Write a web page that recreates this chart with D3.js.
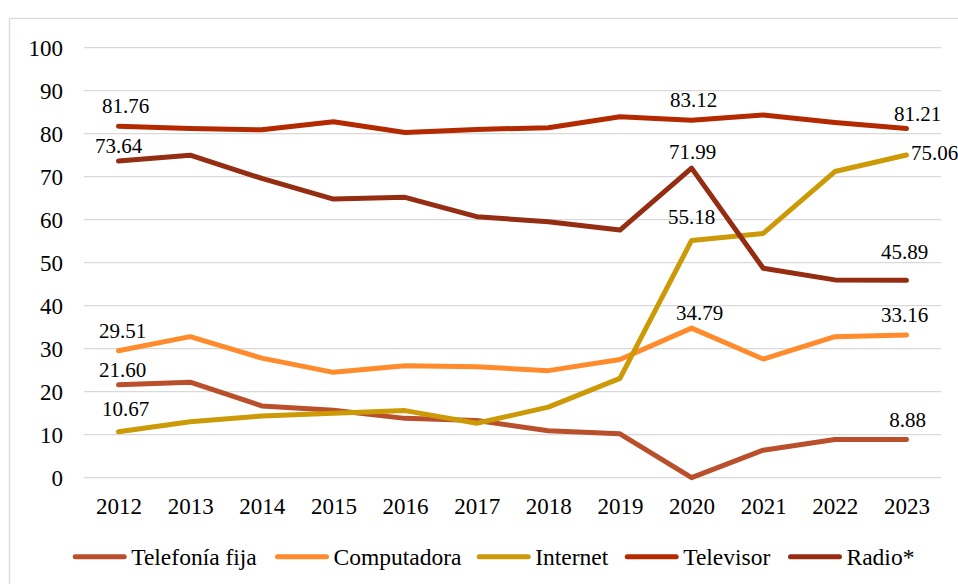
<!DOCTYPE html>
<html>
<head>
<meta charset="utf-8">
<script src="https://cdn.jsdelivr.net/npm/d3@7"></script>
</head>
<body style="margin:0">
<div class="chart"></div>
<script>
// data
const years = [2012, 2013, 2014, 2015, 2016, 2017, 2018, 2019, 2020, 2021, 2022, 2023];
const telefoniaFija = [21.60, 22.2, 16.7, 15.7, 13.8, 13.3, 10.9, 10.2, 0.0, 6.4, 8.9, 8.88];
const computadora = [29.51, 32.8, 27.8, 24.5, 26.05, 25.8, 24.9, 27.5, 34.79, 27.6, 32.8, 33.16];
const internet = [10.67, 13.0, 14.35, 15.0, 15.6, 12.65, 16.4, 23.1, 55.18, 56.8, 71.2, 75.06];
const televisor = [81.76, 81.2, 80.9, 82.8, 80.3, 81.0, 81.4, 83.95, 83.12, 84.35, 82.6, 81.21];
const radio = [73.64, 75.0, 69.6, 64.8, 65.2, 60.7, 59.5, 57.6, 71.99, 48.7, 46.0, 45.89];
const yTicks = [0, 10, 20, 30, 40, 50, 60, 70, 80, 90, 100];

const series = [
  {name: "Telefonía fija", values: telefoniaFija, color: "#B9502B"},
  {name: "Computadora", values: computadora, color: "#FF8B2D"},
  {name: "Internet", values: internet, color: "#CC9A06"},
  {name: "Televisor", values: televisor, color: "#B32A00"},
  {name: "Radio*", values: radio, color: "#952D13"}
];

// which points get a value label (series index, year index, nudge)
const labelled = [
  {s: 3, i: 0, dx: 7, dy: -20},
  {s: 3, i: 8, dx: 2, dy: -20},
  {s: 3, i: 11, dx: 11, dy: -15},
  {s: 4, i: 0, dx: 0, dy: -15},
  {s: 4, i: 8, dx: 1, dy: -16},
  {s: 4, i: 11, dx: -2, dy: -29},
  {s: 2, i: 8, dx: 0, dy: -24},
  {s: 2, i: 11, dx: 28, dy: -2},
  {s: 1, i: 0, dx: 4, dy: -20},
  {s: 1, i: 8, dx: 8, dy: -15},
  {s: 1, i: 11, dx: -2, dy: -20},
  {s: 0, i: 0, dx: 4, dy: -15},
  {s: 0, i: 11, dx: 1, dy: -20},
  {s: 2, i: 0, dx: 7, dy: -23}
];

const width = 958;
const height = 584;

const svg = d3.select('.chart')
  .append('svg')
  .attr('width', width)
  .attr('height', height);

// outer frame (runs off the right and bottom edge)
svg.append('rect')
  .attr('x', 9.5)
  .attr('y', 18.5)
  .attr('width', 980)
  .attr('height', 620)
  .attr('fill', 'none')
  .attr('stroke', '#d9d9d9')
  .attr('stroke-width', 1.3);

const x = d3.scalePoint()
  .domain(years)
  .range([118.5, 906.5]);

const y = d3.scaleLinear()
  .domain([0, 100])
  .range([477.7, 47.7]);

// legend slots, left edge of each key line
const legendX = d3.scaleOrdinal()
  .domain(series.map(d => d.name))
  .range([72.7, 275, 476.7, 624.7, 788]);

// gridlines
svg.selectAll('.grid')
  .data(yTicks)
  .enter()
  .append('line')
  .attr('class', 'grid')
  .attr('x1', 84)
  .attr('x2', 941)
  .attr('y1', d => y(d))
  .attr('y2', d => y(d))
  .attr('stroke', '#d9d9d9')
  .attr('stroke-width', 1.3);

// y axis labels
const gy = svg.append('g')
  .attr('transform', 'translate(63,0)')
  .call(d3.axisLeft(y).tickValues(yTicks).tickSize(0).tickPadding(0))
  .attr('font-family', null)
  .attr('font-size', null);
gy.select('.domain').remove();
gy.selectAll('text')
  .style('font-family', 'Liberation Serif')
  .attr('font-size', 23)
  .attr('fill', '#000')
  .attr('dy', '0.34em');

// x axis labels
const gx = svg.append('g')
  .attr('transform', 'translate(0,514)')
  .call(d3.axisBottom(x).tickSize(0).tickPadding(0))
  .attr('font-family', null)
  .attr('font-size', null);
gx.select('.domain').remove();
gx.selectAll('text')
  .style('font-family', 'Liberation Serif')
  .attr('font-size', 23)
  .attr('fill', '#000')
  .attr('dy', 0);

// lines
const line = d3.line()
  .x((d, i) => x(years[i]))
  .y(d => y(d));

svg.selectAll('.series')
  .data(series)
  .enter()
  .append('path')
  .attr('class', 'series')
  .attr('d', d => line(d.values))
  .attr('fill', 'none')
  .attr('stroke', d => d.color)
  .attr('stroke-width', 5)
  .attr('stroke-linecap', 'round')
  .attr('stroke-linejoin', 'round');

// value labels
svg.selectAll('.valueLabel')
  .data(labelled)
  .enter()
  .append('text')
  .attr('class', 'valueLabel')
  .attr('x', d => x(years[d.i]) + d.dx)
  .attr('y', d => y(series[d.s].values[d.i]) + d.dy)
  .attr('dy', '0.34em')
  .attr('text-anchor', 'middle')
  .style('font-family', 'Liberation Serif')
  .attr('font-size', 21)
  .attr('fill', '#000')
  .text(d => series[d.s].values[d.i].toFixed(2));

// legend
const keys = svg.selectAll('.key')
  .data(series)
  .enter()
  .append('g')
  .attr('class', 'key')
  .attr('transform', d => 'translate(' + legendX(d.name) + ',556.7)');

keys.append('line')
  .attr('x1', 2.5).attr('x2', 51.5)
  .attr('y1', 0).attr('y2', 0)
  .attr('stroke', d => d.color)
  .attr('stroke-width', 5)
  .attr('stroke-linecap', 'round');

keys.append('text')
  .attr('x', 58.5)
  .attr('dy', '0.34em')
  .style('font-family', 'Liberation Serif')
  .attr('font-size', 23.5)
  .attr('fill', '#000')
  .text(d => d.name);
</script>
</body>
</html>
